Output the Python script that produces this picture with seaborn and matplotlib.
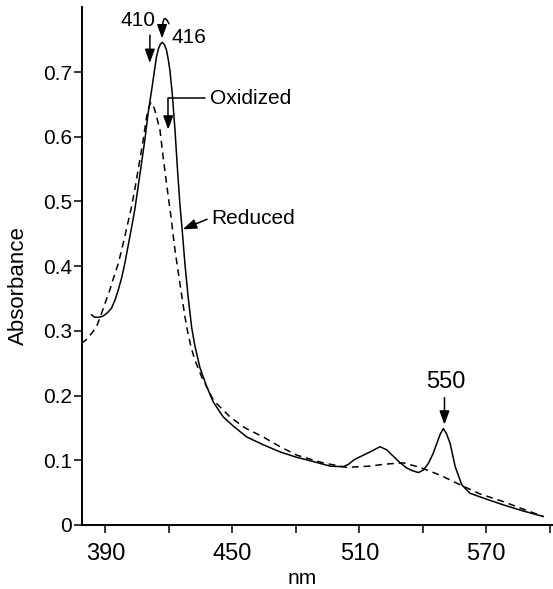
import numpy as np
import pandas as pd
import seaborn as sns
import matplotlib
matplotlib.use("Agg")
import matplotlib.pyplot as plt

# spectrum (nm, absorbance)
reduced_nm = [383.4, 385.0, 387.0, 389.0, 391.0, 392.9, 394.5, 396.1, 397.7, 399.2,
              400.4, 401.6, 402.8, 403.9, 405.5, 407.1, 408.7, 410.2, 412.1, 413.2,
              414.2, 415.2, 416.0, 416.9, 417.8, 418.9, 419.7, 420.5, 421.6, 422.9,
              424.1, 425.2, 426.3, 427.6, 429.1, 430.8, 432.3, 434.7, 437.9, 441.0,
              445.7, 450.4, 456.8, 464.6, 472.5, 480.0, 488.3, 496.1, 502.4, 505.0,
              507.2, 508.8, 512.0, 515.1, 517.5, 519.8, 523.0, 526.1, 529.0, 532.4,
              535.0, 537.9, 540.3, 542.6, 544.8, 546.6, 548.3, 549.7, 551.2, 552.9,
              555.3, 558.4, 562.3, 570.0, 578.1, 587.0, 597.0]
reduced_abs = [0.325, 0.321, 0.321, 0.323, 0.328, 0.335, 0.347, 0.363, 0.382, 0.404,
               0.425, 0.446, 0.467, 0.487, 0.523, 0.559, 0.596, 0.636, 0.677, 0.702,
               0.724, 0.737, 0.743, 0.746, 0.743, 0.734, 0.720, 0.703, 0.667, 0.611,
               0.549, 0.497, 0.456, 0.404, 0.353, 0.305, 0.277, 0.243, 0.214, 0.190,
               0.167, 0.153, 0.136, 0.124, 0.113, 0.105, 0.098, 0.091, 0.090, 0.094,
               0.100, 0.103, 0.108, 0.113, 0.117, 0.121, 0.116, 0.106, 0.097, 0.088,
               0.084, 0.081, 0.085, 0.095, 0.110, 0.126, 0.141, 0.149, 0.141, 0.126,
               0.090, 0.062, 0.049, 0.040, 0.031, 0.022, 0.013]

oxidized_nm = [378.7, 380.5, 382.5, 384.2, 385.8, 388.2, 390.0, 392.1, 394.0, 396.1,
               397.7, 399.2, 400.8, 402.4, 404.0, 405.5, 407.9, 409.5, 410.5, 411.5,
               412.5, 413.4, 415.8, 417.3, 418.9, 421.0, 422.9, 425.2, 427.6, 428.8,
               430.5, 432.3, 435.5, 441.0, 448.9, 456.0, 464.6, 472.0, 480.4, 492.8,
               504.0, 515.1, 522.0, 530.8, 538.7, 548.2, 557.7, 567.0, 578.1, 587.0,
               597.0]
oxidized_abs = [0.281, 0.285, 0.292, 0.299, 0.306, 0.327, 0.344, 0.363, 0.383, 0.404,
                0.425, 0.446, 0.469, 0.492, 0.520, 0.549, 0.595, 0.631, 0.645, 0.653,
                0.649, 0.641, 0.611, 0.569, 0.528, 0.477, 0.425, 0.374, 0.322, 0.300,
                0.275, 0.255, 0.229, 0.193, 0.167, 0.150, 0.136, 0.122, 0.108, 0.096,
                0.089, 0.091, 0.094, 0.096, 0.089, 0.077, 0.062, 0.048, 0.036, 0.025,
                0.013]

x_major = [390, 450, 510, 570]
x_minor = [420, 480, 540, 600]
y_ticks = [0, 0.1, 0.2, 0.3, 0.4, 0.5, 0.6, 0.7]
y_labels = ["0", "0.1", "0.2", "0.3", "0.4", "0.5", "0.6", "0.7"]

sns.set_style("ticks")
plt.rcParams["font.family"] = ["Liberation Sans", "DejaVu Sans"]
plt.rcParams.update({"text.color": "black", "axes.labelcolor": "black",
                     "xtick.color": "black", "ytick.color": "black",
                     "axes.edgecolor": "black"})

fig = plt.figure(figsize=(5.53, 5.89), dpi=100)
ax = fig.add_axes([0.1476, 0.1087, 0.8524, 0.8788])

sns.lineplot(x=reduced_nm, y=reduced_abs, ax=ax, color="black", linewidth=1.1,
             sort=False, estimator=None)
sns.lineplot(x=oxidized_nm, y=oxidized_abs, ax=ax, color="black", linewidth=1.1,
             sort=False, estimator=None, linestyle=(0, (4.5, 3.2)))

ax.set_xlim(378.8, 601.5)
ax.set_ylim(0, 0.8)
sns.despine(ax=ax)
for s in ["left", "bottom"]:
    ax.spines[s].set_linewidth(1.4)
    ax.spines[s].set_color("black")

ax.set_xticks(x_major)
ax.set_xticks(x_minor, minor=True)
ax.set_xticklabels([str(v) for v in x_major])
ax.set_yticks(y_ticks)
ax.set_yticklabels(y_labels)
ax.tick_params(axis="x", which="both", length=6, width=1.1, direction="out",
               labelsize=17, pad=7, colors="black")
ax.tick_params(axis="y", length=6, width=1.1, direction="out", labelsize=15, pad=1,
               colors="black")

ax.set_xlabel("nm", fontsize=15, color="black")
ax.xaxis.set_label_coords(0.4675, -0.085)
ax.set_ylabel("Absorbance", fontsize=16, color="black")
ax.yaxis.set_label_coords(-0.112, 0.462)

head = "-|>,head_length=0.55,head_width=0.2"
ap = dict(arrowstyle=head, color="black", lw=1.1, mutation_scale=15, shrinkA=1, shrinkB=0)

ax.annotate("410", xy=(411.0, 0.714), xytext=(405.3, 0.779), ha="center", va="center",
            fontsize=15, color="black", arrowprops=dict(ap, relpos=(0.85, 0.0)))
ax.annotate("416", xy=(416.8, 0.752), xytext=(421.3, 0.753), ha="left", va="center",
            fontsize=15, color="black",
            arrowprops=dict(ap, relpos=(0.0, 0.9),
                            connectionstyle="angle3,angleA=110,angleB=90"))
ax.annotate("Oxidized", xy=(419.7, 0.611), xytext=(439.4, 0.659), ha="left", va="center",
            fontsize=15, color="black",
            arrowprops=dict(ap, relpos=(0.0, 0.55),
                            connectionstyle="angle,angleA=180,angleB=90,rad=0"))
ax.annotate("Reduced", xy=(426.6, 0.457), xytext=(440.2, 0.474), ha="left", va="center",
            fontsize=15, color="black", arrowprops=dict(ap, relpos=(0.0, 0.55)))
ax.annotate("550", xy=(550.2, 0.155), xytext=(551.0, 0.221), ha="center", va="center",
            fontsize=17, color="black", arrowprops=dict(ap, relpos=(0.46, 0.0)))

fig.savefig("out.png", dpi=100)
